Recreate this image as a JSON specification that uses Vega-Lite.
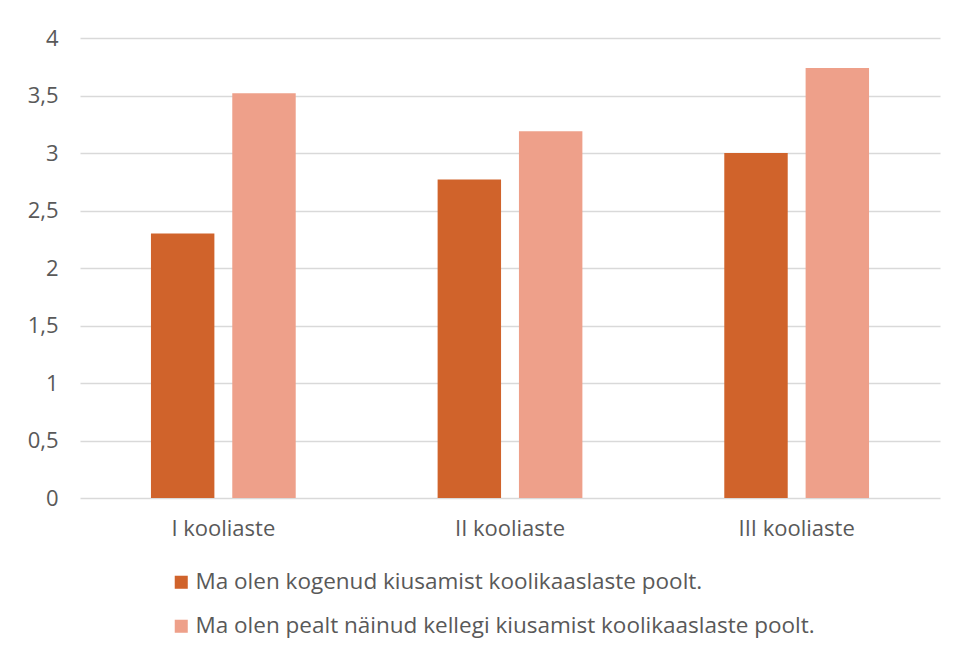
{
  "$schema": "https://vega.github.io/schema/vega-lite/v6.json",
  "width": 860,
  "height": 460,
  "autosize": {"type": "none"},
  "padding": {"left": 80, "top": 38, "right": 18, "bottom": 158},
  "background": "white",
  "config": {
    "locale": {"number": {"decimal": ",", "thousands": " ", "grouping": [3], "currency": ["", " €"]}},
    "view": {"stroke": null},
    "font": "Open Sans",
    "axis": {"labelFontSize": 22, "labelFont": "Open Sans"},
    "legend": {"labelFontSize": 22.5, "labelFont": "Open Sans"}
  },
  "data": {
    "values": [
      {"aste": "I kooliaste", "seeria": "Ma olen kogenud kiusamist koolikaaslaste poolt.", "vaartus": 2.3},
      {"aste": "I kooliaste", "seeria": "Ma olen pealt näinud kellegi kiusamist koolikaaslaste poolt.", "vaartus": 3.52},
      {"aste": "II kooliaste", "seeria": "Ma olen kogenud kiusamist koolikaaslaste poolt.", "vaartus": 2.77},
      {"aste": "II kooliaste", "seeria": "Ma olen pealt näinud kellegi kiusamist koolikaaslaste poolt.", "vaartus": 3.19},
      {"aste": "III kooliaste", "seeria": "Ma olen kogenud kiusamist koolikaaslaste poolt.", "vaartus": 3.0},
      {"aste": "III kooliaste", "seeria": "Ma olen pealt näinud kellegi kiusamist koolikaaslaste poolt.", "vaartus": 3.74}
    ]
  },
  "mark": {"type": "bar"},
  "encoding": {
    "x": {
      "field": "aste", "type": "nominal", "sort": null,
      "scale": {"paddingInner": 0.495, "paddingOuter": 0.2475},
      "axis": {"title": null, "labelAngle": 0, "domain": false, "ticks": false, "labelPadding": 20, "labelFontSize": 22, "labelColor": "#595959"}
    },
    "xOffset": {
      "field": "seeria", "type": "nominal", "sort": null,
      "scale": {"paddingInner": 0.22, "paddingOuter": 0}
    },
    "y": {
      "field": "vaartus", "type": "quantitative",
      "scale": {"domain": [0, 4], "nice": false},
      "axis": {"title": null, "values": [0, 0.5, 1, 1.5, 2, 2.5, 3, 3.5, 4], "format": ".1~f", "domain": false, "ticks": false, "labelPadding": 22, "labelFontSize": 22, "labelColor": "#595959", "gridColor": "#D9D9D9", "gridWidth": 1.5}
    },
    "color": {
      "field": "seeria", "type": "nominal", "sort": null,
      "scale": {"range": ["#D0632B", "#EEA08A"]},
      "legend": {
        "title": null, "orient": "none", "legendX": 90, "legendY": 533, "direction": "vertical",
        "symbolType": "square", "symbolSize": 170, "symbolStrokeWidth": 0, "symbolOpacity": 1,
        "labelFontSize": 22.5, "labelColor": "#595959", "rowPadding": 21, "labelOffset": 3, "labelLimit": 800
      }
    }
  }
}
